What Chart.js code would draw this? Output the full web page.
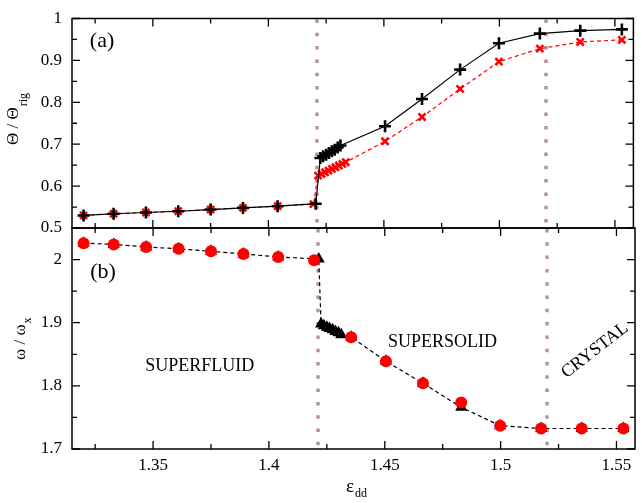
<!DOCTYPE html>
<html>
<head>
<meta charset="utf-8">
<script src="https://cdn.jsdelivr.net/npm/chart.js@4.4.0/dist/chart.umd.min.js"></script>
<style>
  body { margin: 0; background: #fff; }
  #wrap { position: relative; width: 642px; height: 503px; }
  #wrap canvas { position: absolute; left: 0; top: 0; }
</style>
</head>
<body>
<div id="wrap">
  <canvas id="chartA" width="642" height="503"></canvas>
  <canvas id="chartB" width="642" height="503"></canvas>
</div>
<script>
// x axis range and phase boundaries
const xMin = 1.315, xMax = 1.558;
const phaseLines = [1.421, 1.520];
const xMajor = [1.35, 1.4, 1.45, 1.5, 1.55];
const xMinor = [1.325, 1.375, 1.425, 1.475, 1.525];

// panel (a): Theta / Theta_rig
const epsBlack = [1.320, 1.333, 1.347, 1.361, 1.375, 1.389, 1.404, 1.4205,
  1.4225, 1.4237, 1.425, 1.4262, 1.4275, 1.4287, 1.430, 1.4312,
  1.4505, 1.4665, 1.483, 1.4998, 1.5175, 1.535, 1.553];
const thetaBlack = [0.530, 0.534, 0.537, 0.540, 0.544, 0.548, 0.552, 0.558,
  0.667, 0.671, 0.675, 0.679, 0.683, 0.687, 0.692, 0.697,
  0.743, 0.808, 0.878, 0.941, 0.964, 0.971, 0.974];
const epsRed = [1.320, 1.333, 1.347, 1.361, 1.375, 1.389, 1.404, 1.4195,
  1.4215, 1.423, 1.4245, 1.426, 1.4275, 1.429, 1.4305, 1.432, 1.4335,
  1.4505, 1.4665, 1.483, 1.4998, 1.5175, 1.535, 1.553];
const thetaRed = [0.530, 0.534, 0.537, 0.540, 0.544, 0.548, 0.552, 0.557,
  0.625, 0.629, 0.633, 0.637, 0.641, 0.645, 0.649, 0.653, 0.657,
  0.707, 0.765, 0.832, 0.897, 0.928, 0.944, 0.949];

// panel (b): omega / omega_x
const epsTri = [1.320, 1.333, 1.347, 1.361, 1.375, 1.389, 1.404, 1.4215,
  1.4225, 1.4237, 1.425, 1.4262, 1.4275, 1.4287, 1.430, 1.4312,
  1.4355, 1.4505, 1.4665, 1.483, 1.4998, 1.5175, 1.535, 1.553];
const omegaTri = [2.026, 2.024, 2.020, 2.017, 2.013, 2.009, 2.004, 2.001,
  1.898, 1.895, 1.893, 1.891, 1.889, 1.886, 1.884, 1.881,
  1.877, 1.839, 1.804, 1.766, 1.737, 1.7325, 1.7325, 1.7325];
const epsCirc = [1.320, 1.333, 1.347, 1.361, 1.375, 1.389, 1.404, 1.4195,
  1.4355, 1.4505, 1.4665, 1.483, 1.4998, 1.5175, 1.535, 1.553];
const omegaCirc = [2.026, 2.024, 2.020, 2.017, 2.013, 2.009, 2.004, 1.999,
  1.877, 1.839, 1.804, 1.7735, 1.737, 1.7325, 1.7325, 1.7325];

const serif = '"Liberation Serif", "DejaVu Serif", serif';
const dotColor = 'rgb(185,148,148)';

function pts(xs, ys) {
  return xs.map((x, i) => ({ x: x, y: ys[i] }));
}

// draws text with a subscript, optionally rotated
function subText(ctx, x, y, main, sub, size, subSize, drop, rot) {
  ctx.save();
  ctx.translate(x, y);
  ctx.rotate(rot || 0);
  ctx.fillStyle = '#000';
  ctx.textBaseline = 'alphabetic';
  ctx.textAlign = 'left';
  ctx.font = size + 'px ' + serif;
  ctx.fillText(main, 0, 0);
  const w = ctx.measureText(main).width;
  ctx.font = subSize + 'px ' + serif;
  ctx.fillText(sub, w + 1, drop);
  ctx.restore();
}

const framePlugin = {
  id: 'frame',
  beforeDatasetsDraw(chart) {
    const { ctx, chartArea: a, scales: { x } } = chart;
    ctx.save();
    ctx.strokeStyle = dotColor;
    ctx.lineWidth = 3.5;
    ctx.setLineDash([3.5, 9.8]);
    phaseLines.forEach(v => {
      const px = Math.round(x.getPixelForValue(v));
      ctx.beginPath();
      ctx.moveTo(px, a.top + 1);
      ctx.lineTo(px, a.bottom);
      ctx.stroke();
    });
    ctx.restore();
  },
  afterDraw(chart, args, opts) {
    const { ctx, chartArea: a, scales: { x, y } } = chart;
    ctx.save();
    ctx.strokeStyle = '#000';
    ctx.lineWidth = 1.5;
    ctx.strokeRect(a.left, a.top, a.right - a.left, a.bottom - a.top);

    // inward ticks on all four sides
    ctx.lineWidth = 1.3;
    const tickX = (v, len) => {
      const px = x.getPixelForValue(v);
      ctx.beginPath();
      ctx.moveTo(px, a.top); ctx.lineTo(px, a.top + len);
      ctx.moveTo(px, a.bottom); ctx.lineTo(px, a.bottom - len);
      ctx.stroke();
    };
    xMajor.forEach(v => tickX(v, 8));
    xMinor.forEach(v => tickX(v, 5));
    const tickY = (v, len) => {
      const py = y.getPixelForValue(v);
      ctx.beginPath();
      ctx.moveTo(a.left, py); ctx.lineTo(a.left + len, py);
      ctx.moveTo(a.right, py); ctx.lineTo(a.right - len, py);
      ctx.stroke();
    };
    const yt = y.ticks.map(t => t.value);
    yt.forEach(v => tickY(v, 8));
    yt.forEach(v => { if (v + opts.yStep / 2 <= y.max + 1e-9) tickY(v + opts.yStep / 2, 5); });
    ctx.restore();

    // annotations placed in data coordinates
    (opts.notes || []).forEach(n => {
      ctx.save();
      ctx.translate(x.getPixelForValue(n.x), y.getPixelForValue(n.y));
      ctx.rotate(n.rot || 0);
      ctx.fillStyle = '#000';
      ctx.font = n.size + 'px ' + serif;
      ctx.textAlign = 'center';
      ctx.textBaseline = 'middle';
      ctx.fillText(n.text, 0, 0);
      ctx.restore();
    });

    // axis titles
    (opts.titles || []).forEach(t => {
      subText(ctx, t.x, t.y, t.main, t.sub, t.size, t.subSize, t.drop, t.rot);
    });
  }
};

const tickFont = { family: serif, size: 17, lineHeight: 1 };
const fmt = v => String(+v.toFixed(2));

new Chart(document.getElementById('chartA'), {
  type: 'scatter',
  data: {
    datasets: [{
      data: pts(epsBlack, thetaBlack),
      showLine: true,
      borderColor: '#000',
      borderWidth: 1.2,
      pointStyle: 'cross',
      pointRadius: 6,
      pointBorderWidth: 2.6,
      pointBorderColor: '#000'
    }, {
      data: pts(epsRed, thetaRed),
      showLine: true,
      borderColor: '#ff0000',
      borderWidth: 1.2,
      borderDash: [4, 3],
      pointStyle: 'crossRot',
      pointRadius: 5,
      pointBorderWidth: 2.6,
      pointBorderColor: '#ff0000'
    }]
  },
  options: {
    responsive: false,
    animation: false,
    layout: { padding: { left: 0, top: 9, right: 1, bottom: 275 } },
    plugins: {
      legend: { display: false },
      tooltip: { enabled: false },
      frame: {
        yStep: 0.1,
        notes: [{ text: '(a)', x: 1.328, y: 0.946, size: 22 }],
        titles: [{ main: 'Θ / Θ', sub: 'rig', x: 18, y: 145, size: 17, subSize: 12, drop: 9, rot: -Math.PI / 2 }]
      }
    },
    scales: {
      x: { type: 'linear', min: xMin, max: xMax, display: false },
      y: {
        min: 0.5, max: 1,
        grid: { display: false, drawTicks: false },
        border: { display: false },
        ticks: { stepSize: 0.1, includeBounds: false, color: '#000', font: tickFont, padding: 10, callback: fmt },
        afterFit(s) { s.width = 72; }
      }
    }
  },
  plugins: [framePlugin]
});

new Chart(document.getElementById('chartB'), {
  type: 'scatter',
  data: {
    datasets: [{
      data: pts(epsCirc, omegaCirc),
      showLine: false,
      pointStyle: 'circle',
      pointRadius: 6,
      pointBorderWidth: 0,
      pointBackgroundColor: '#ff0000',
      pointBorderColor: '#ff0000'
    }, {
      data: pts(epsTri, omegaTri),
      showLine: true,
      borderColor: '#000',
      borderWidth: 1.2,
      borderDash: [4, 3],
      pointStyle: 'triangle',
      pointRadius: 7,
      pointBorderWidth: 0,
      pointBackgroundColor: '#000',
      pointBorderColor: '#000'
    }]
  },
  options: {
    responsive: false,
    animation: false,
    layout: { padding: { left: 0, top: 228, right: 1, bottom: 0 } },
    plugins: {
      legend: { display: false },
      tooltip: { enabled: false },
      frame: {
        yStep: 0.1,
        notes: [
          { text: '(b)', x: 1.3284, y: 1.9795, size: 22 },
          { text: 'SUPERFLUID', x: 1.3701, y: 1.8314, size: 18 },
          { text: 'SUPERSOLID', x: 1.4749, y: 1.8694, size: 18 },
          { text: 'CRYSTAL', x: 1.5407, y: 1.8562, size: 18, rot: -0.66 }
        ],
        titles: [
          { main: 'ω / ω', sub: 'x', x: 25, y: 360, size: 17, subSize: 12, drop: 6, rot: -Math.PI / 2 },
          { main: 'ε', sub: 'dd', x: 346, y: 492, size: 19, subSize: 12, drop: 5, rot: 0 }
        ]
      }
    },
    scales: {
      x: {
        type: 'linear', min: xMin, max: xMax,
        grid: { display: false, drawTicks: false },
        border: { display: false },
        ticks: { stepSize: 0.05, includeBounds: false, autoSkip: false, maxRotation: 0, color: '#000', font: tickFont, padding: 8, callback: fmt },
        afterFit(s) { s.height = 54; }
      },
      y: {
        min: 1.7, max: 2.05,
        grid: { display: false, drawTicks: false },
        border: { display: false },
        ticks: { stepSize: 0.1, includeBounds: false, color: '#000', font: tickFont, padding: 10, callback: fmt },
        afterFit(s) { s.width = 72; }
      }
    }
  },
  plugins: [framePlugin]
});
</script>
</body>
</html>
